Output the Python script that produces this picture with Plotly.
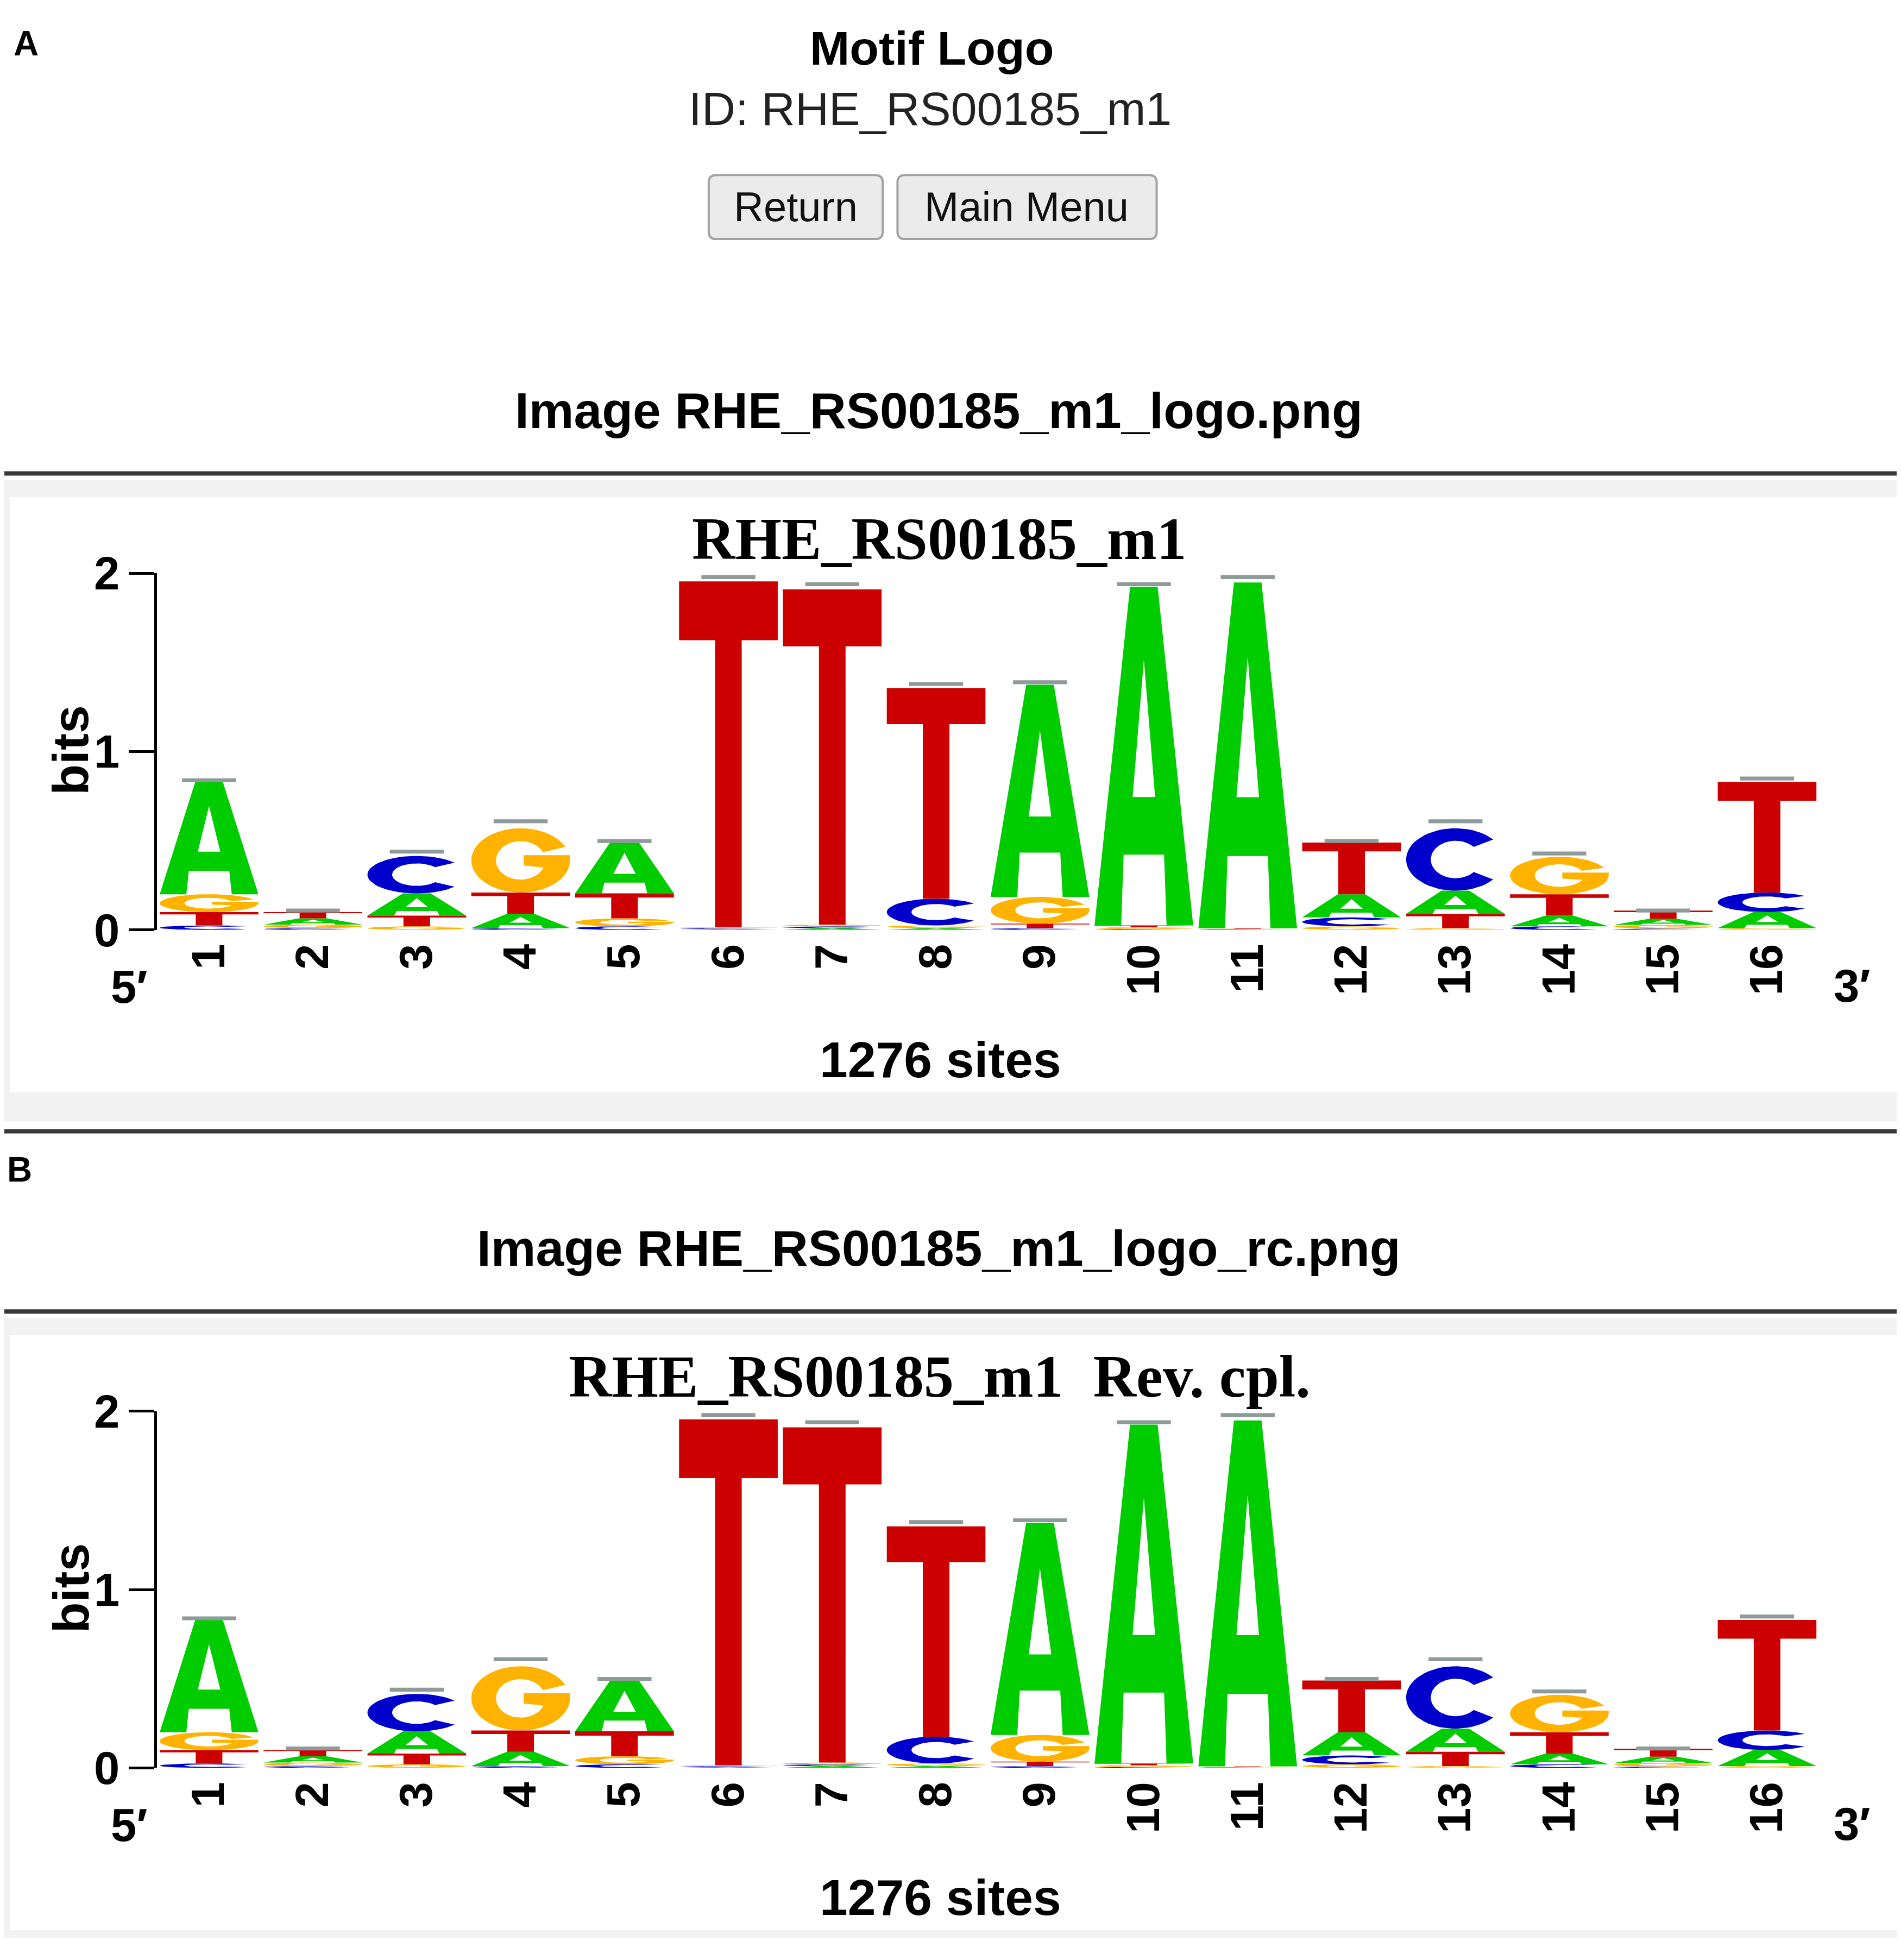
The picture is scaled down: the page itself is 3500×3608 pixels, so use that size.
import numpy as np
import plotly.graph_objects as go

W, H = 3500, 3608

# logo data (bits per base)
positions = list(range(1, 17))
pos_labels = [str(p) for p in positions]
bits_A = [0.63, 0.035, 0.125, 0.08, 0.29, 0.005, 0.01, 0.01, 1.19, 1.90, 1.94, 0.13, 0.13, 0.06, 0.035, 0.09]
bits_C = [0.025, 0.01, 0.21, 0.01, 0.02, 0.005, 0.01, 0.15, 0.01, 0.005, 0.003, 0.05, 0.35, 0.02, 0.008, 0.11]
bits_G = [0.10, 0.02, 0.02, 0.36, 0.045, 0.005, 0.01, 0.015, 0.15, 0.01, 0.003, 0.02, 0.01, 0.21, 0.02, 0.01]
bits_T = [0.075, 0.035, 0.06, 0.12, 0.14, 1.94, 1.88, 1.18, 0.025, 0.01, 0.003, 0.29, 0.08, 0.12, 0.045, 0.62]
err_top = [0.85, 0.12, 0.45, 0.62, 0.51, 1.99, 1.95, 1.39, 1.40, 1.95, 1.99, 0.51, 0.62, 0.44, 0.12, 0.86]
y_ticks = [0, 1, 2]
n_sites = 1276

colors = {"A": "#00cc00", "C": "#0000cc", "G": "#ffb300", "T": "#cc0000"}
SANS = "Liberation Sans, Arial, sans-serif"
SERIF = "Liberation Serif, Times New Roman, serif"

# the page photo puts the paper a bit lower and squeezes it slightly,
# so target positions are mapped back to paper pixels
Y_OFF, Y_SC = 50.6, 0.9746
X_OFF, X_SC = 8.0, 0.9955


def arc(rx, ry, a0, a1, n=48):
    t = np.radians(np.linspace(a0, a1, n))
    return list(zip(0.5 + rx * np.cos(t), 0.5 + ry * np.sin(t)))


# letter outlines in a unit box (holes cut with a slit)
c_pts = arc(0.5, 0.5, 40, 320) + arc(0.25, 0.3, 318, 42)
g_pts = arc(0.5, 0.5, 25, 360) + [(1, 0.58), (0.53, 0.58), (0.53, 0.42)] + arc(0.25, 0.3, 338, 25)
GLYPHS = {
    "T": [(0, 1), (1, 1), (1, 0.83), (0.635, 0.83), (0.635, 0), (0.365, 0), (0.365, 0.83), (0, 0.83), (0, 1)],
    "A": [(0.5, 1), (0.36, 1), (0, 0), (0.27, 0), (0.295, 0.209), (0.705, 0.209), (0.73, 0), (1, 0),
          (0.64, 1), (0.5, 1), (0.5, 0.785), (0.614, 0.379), (0.386, 0.379), (0.5, 0.785), (0.5, 1)],
    "C": c_pts + [c_pts[0]],
    "G": g_pts + [g_pts[0]],
}


def px(x):
    return min(max((x - X_OFF) / X_SC, 0), W) / W


def py(y):
    return 1 - min(max((y - Y_OFF) / Y_SC, 0), H) / H


def add_logo(fig, xa, ya):
    xs = {b: [] for b in "ACGT"}
    ys = {b: [] for b in "ACGT"}
    for i, p in enumerate(positions):
        col = sorted([(bits_A[i], "A"), (bits_C[i], "C"), (bits_G[i], "G"), (bits_T[i], "T")])
        y0 = 0
        for h, b in col:
            for gx, gy in GLYPHS[b]:
                xs[b].append(p - 0.475 + 0.95 * gx)
                ys[b].append(y0 + h * gy)
            xs[b].append(None)
            ys[b].append(None)
            y0 += h
    for b in "ACGT":
        fig.add_trace(go.Scatter(x=xs[b], y=ys[b], xaxis=xa, yaxis=ya, mode="lines", fill="toself",
                                 fillcolor=colors[b], line=dict(width=0, color=colors[b]),
                                 hoverinfo="skip", showlegend=False))
    # error bars on top of stacks
    ex, ey = [], []
    for p, e in zip(positions, err_top):
        ex += [p - 0.26, p + 0.26, p + 0.26, p - 0.26, p - 0.26, None]
        ey += [e - 0.022, e - 0.022, e, e, e - 0.022, None]
    fig.add_trace(go.Scatter(x=ex, y=ey, xaxis=xa, yaxis=ya, mode="lines", fill="toself",
                             fillcolor="#8f9b9b", line=dict(width=0), hoverinfo="skip", showlegend=False))


fig = go.Figure()
add_logo(fig, "x", "y")
add_logo(fig, "x2", "y2")

# pixel geometry of the two logo frames (as seen in the picture)
x_left, x_right = 288, 3334
zero_a, two_a = 1709, 1052
off = 1544

axis_y = dict(range=[0, 2], tickvals=y_ticks, ticktext=[str(t) for t in y_ticks], ticks="outside",
              ticklen=47, tickwidth=5, tickcolor="black", showline=True, linewidth=5, linecolor="black",
              showgrid=False, zeroline=False, tickfont=dict(family=SANS, size=85, color="black", weight="bold"))
axis_x = dict(range=[0.5, 16.5], tickvals=positions, ticktext=pos_labels, tickangle=-90, ticks="",
              showline=False, showgrid=False, zeroline=False, ticklabelstandoff=8,
              tickfont=dict(family=SANS, size=85, color="black", weight="bold"))

fig.update_layout(
    width=W, height=H, margin=dict(l=0, r=0, t=0, b=0),
    paper_bgcolor="white", plot_bgcolor="rgba(0,0,0,0)",
    xaxis=dict(axis_x, domain=[px(x_left), px(x_right)], anchor="y"),
    yaxis=dict(axis_y, domain=[py(zero_a), py(two_a)], anchor="x"),
    xaxis2=dict(axis_x, domain=[px(x_left), px(x_right)], anchor="y2"),
    yaxis2=dict(axis_y, domain=[py(zero_a + off), py(two_a + off)], anchor="x2"),
)

shapes = []
ann = []


def text(t, x, y, size, bold=True, family=SANS, color="black", angle=0):
    ann.append(dict(text=t, x=px(x), y=py(y), xref="paper", yref="paper", showarrow=False,
                    xanchor="center", yanchor="middle", textangle=angle,
                    font=dict(family=family, size=size, color=color, weight="bold" if bold else "normal")))


def rect(x0, y0, x1, y1, fill, line=None, lw=0):
    shapes.append(dict(type="rect", xref="paper", yref="paper", x0=px(x0), x1=px(x1), y0=py(y1), y1=py(y0),
                       fillcolor=fill, line=dict(width=lw, color=line or fill), layer="below"))


def button(x0, y0, x1, y1, r=14):
    # rounded rectangle in paper coordinates
    a, b, c, d = px(x0), px(x1), py(y0), py(y1)
    rx, ry = r / W, r / H
    path = (f"M{a + rx},{c} L{b - rx},{c} Q{b},{c} {b},{c - ry} L{b},{d + ry} Q{b},{d} {b - rx},{d} "
            f"L{a + rx},{d} Q{a},{d} {a},{d + ry} L{a},{c - ry} Q{a},{c} {a + rx},{c} Z")
    shapes.append(dict(type="path", xref="paper", yref="paper", path=path, fillcolor="#ebebeb",
                       line=dict(color="#a2a2a2", width=4), layer="below"))


def hline(y, w=8):
    shapes.append(dict(type="line", xref="paper", yref="paper", x0=px(8), x1=px(3494), y0=py(y), y1=py(y),
                       line=dict(color="#383838", width=w), layer="below"))


# header (kept just inside the top edge)
text("A", 48, 76, 64)
text("Motif Logo", 1708, 84, 88)
text("ID: RHE_RS00185_m1", 1705, 196, 86, bold=False, color="#222222")
button(1299, 318, 1618, 436)
button(1645, 318, 2120, 436)
text("Return", 1458, 376, 76, bold=False, color="#111111")
text("Main Menu", 1882, 376, 76, bold=False, color="#111111")

# the two image panels
panels = [("Image RHE_RS00185_m1_logo.png", "RHE_RS00185_m1"),
          ("Image RHE_RS00185_m1_logo_rc.png", "RHE_RS00185_m1\u00a0\u00a0Rev. cpl.")]
for k, (img_title, logo_title) in enumerate(panels):
    d = k * off
    text(img_title, 1721, 752 + d, 93)
    hline(868 + d)
    rect(8, 880 + d, 3494, 2062 + d, "#f2f2f2")
    rect(18, 912 + d, 3478, 2008 + d, "#ffffff")
    text(logo_title, 1722, 988 + d, 110, family=SERIF)
    text("bits", 130, 1378 + d, 93, angle=-90)
    text("5\u2032", 237, 1814 + d, 85)
    text("3\u2032", 3395, 1812 + d, 85)
    text(f"{n_sites} sites", 1724, 1948 + d, 93)

hline(2080)
text("B", 36, 2151, 64)

fig.update_layout(shapes=shapes, annotations=ann)
fig.write_html("out.html")
